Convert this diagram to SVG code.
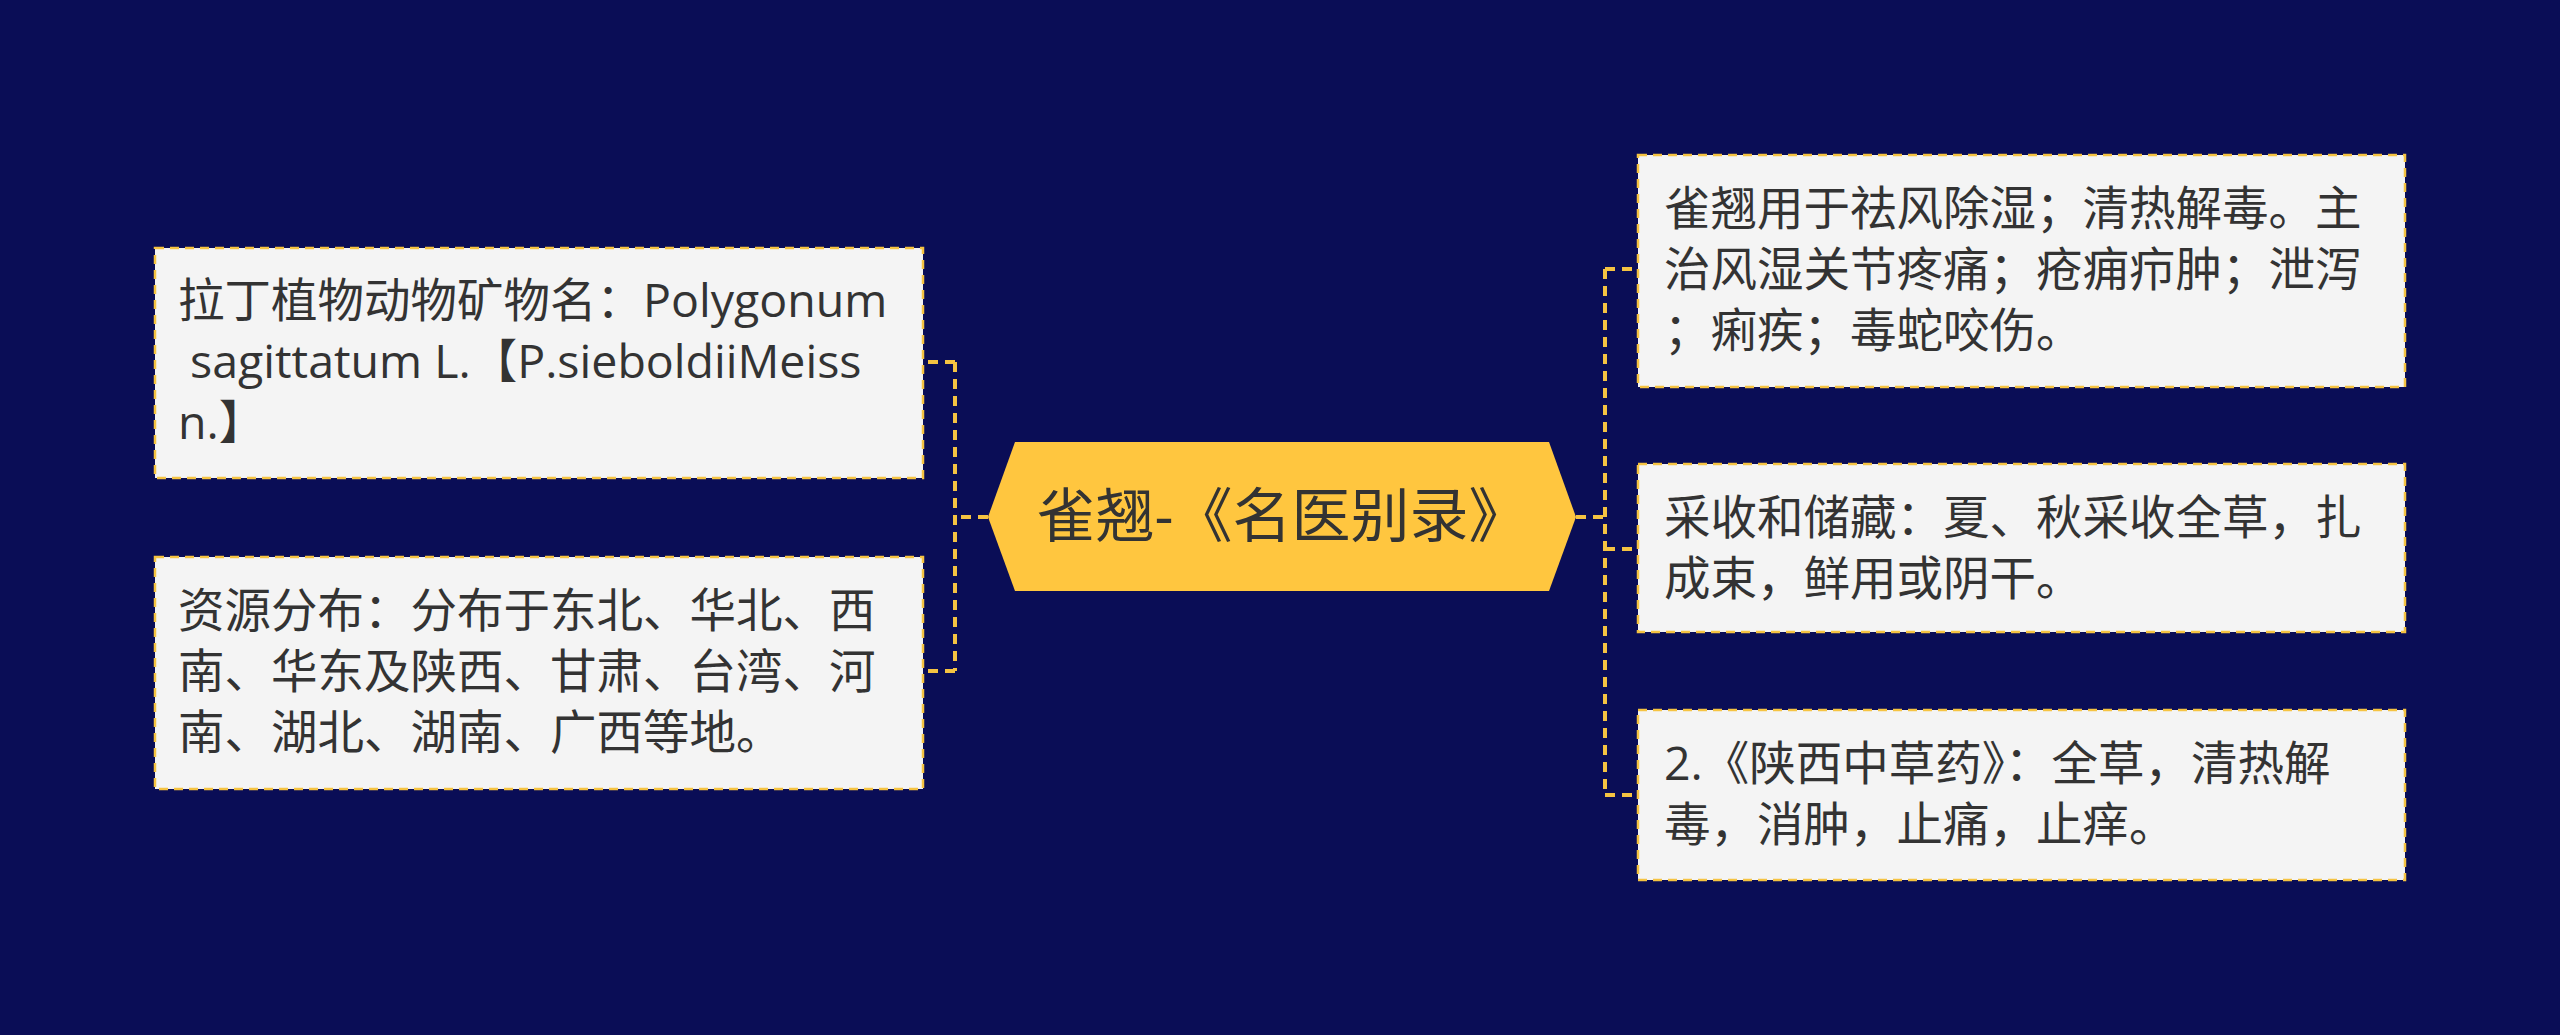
<svg xmlns="http://www.w3.org/2000/svg" width="2560" height="1035" viewBox="0 0 2560 1035">
<style>
.box{fill:#f4f4f4;stroke:#f5c342;stroke-width:2.5;stroke-dasharray:9 6}
.t{font-family:"Open Sans","Noto Sans CJK SC",sans-serif;font-size:46.5px;fill:#333}
.c{fill:none;stroke:#f5c342;stroke-width:4;stroke-dasharray:10 7}
</style>
<rect width="2560" height="1035" fill="#0a0d56"/>
<g id="connectors">
<path class="c" d="M988 517H955M955 362V671M955 362H923M955 671H923"/>
<path class="c" d="M1576 517H1605M1605 269V795M1605 269H1638M1605 549H1638M1605 795H1638"/>
</g>
<g id="center">
<polygon points="988,517 1015,442 1549,442 1576,517 1549,591 1015,591" fill="#ffc63f"/>
<text x="1282" y="537" text-anchor="middle" font-family="Open Sans,Noto Sans CJK SC,sans-serif" font-size="59" fill="#333">雀翘-《名医别录》</text>
</g>
<g id="l1">
<rect class="box" x="155" y="248" width="768" height="230"/>
<text class="t" x="178" y="317">拉丁植物动物矿物名：Polygonum</text>
<text class="t" x="190" y="378">sagittatum L.【P.sieboldiiMeiss</text>
<text class="t" x="178" y="439">n.】</text>
</g>
<g id="l2">
<rect class="box" x="155" y="557" width="768" height="232"/>
<text class="t" x="178" y="627">资源分布：分布于东北、华北、西</text>
<text class="t" x="178" y="688">南、华东及陕西、甘肃、台湾、河</text>
<text class="t" x="178" y="749">南、湖北、湖南、广西等地。</text>
</g>
<g id="r1">
<rect class="box" x="1638" y="155" width="767" height="232"/>
<text class="t" x="1664" y="225">雀翘用于祛风除湿；清热解毒。主</text>
<text class="t" x="1664" y="286">治风湿关节疼痛；疮痈疖肿；泄泻</text>
<text class="t" x="1664" y="347">；痢疾；毒蛇咬伤。</text>
</g>
<g id="r2">
<rect class="box" x="1638" y="464" width="767" height="168"/>
<text class="t" x="1664" y="534">采收和储藏：夏、秋采收全草，扎</text>
<text class="t" x="1664" y="595">成束，鲜用或阴干。</text>
</g>
<g id="r3">
<rect class="box" x="1638" y="710" width="767" height="170"/>
<text class="t" x="1664" y="780">2.《陕西中草药》：全草，清热解</text>
<text class="t" x="1664" y="841">毒，消肿，止痛，止痒。</text>
</g>
</svg>
